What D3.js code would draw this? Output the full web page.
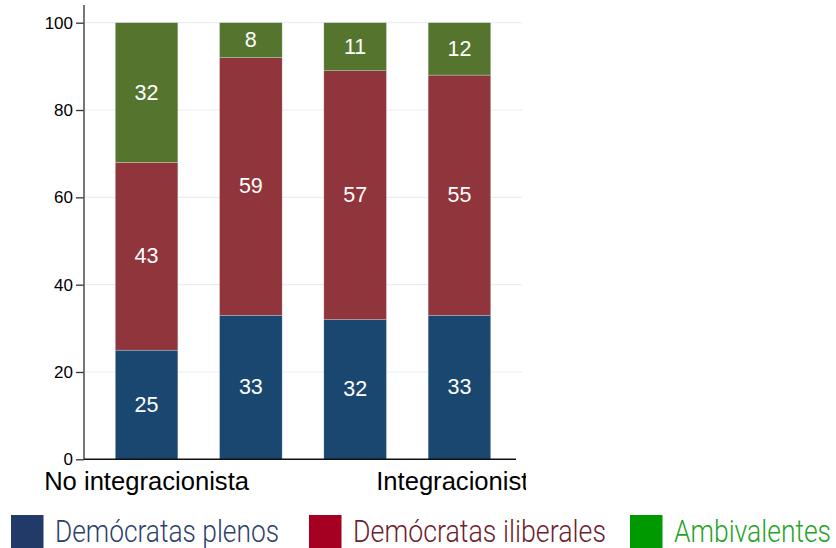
<!DOCTYPE html>
<html>
<head>
<meta charset="utf-8">
<script src="https://cdn.jsdelivr.net/npm/d3@7"></script>
<style>
  html, body { margin: 0; padding: 0; background: #fff; }
  svg { display: block; }
</style>
</head>
<body>
<svg id="chart" width="836" height="548"></svg>
<script>
// Stacked shares (%) by position on the integration scale
const categories = ["1", "2", "3", "4"];
const xTickLabels = ["No integracionista", "", "", "Integracionista"];
const plenos = [25, 33, 32, 33];
const iliberales = [43, 59, 57, 55];
const ambivalentes = [32, 8, 11, 12];
const seriesNames = ["Demócratas plenos", "Demócratas iliberales", "Ambivalentes"];
const yTicks = [0, 20, 40, 60, 80, 100];

const barColors = ["#1a476f", "#90353b", "#55752f"];
const legendSwatch = ["#213a68", "#a50021", "#009900"];
const legendText = ["#2d3f6c", "#6e1d2d", "#26a326"];

const svg = d3.select("#chart");

const x = d3.scaleBand()
  .domain(categories)
  .range([84, 522])
  .paddingInner(0.4)
  .paddingOuter(0.3);

const y = d3.scaleLinear().domain([0, 100]).range([459.3, 22.7]);

// Table for the stack layout
const rows = categories.map((c, i) => ({
  cat: c,
  plenos: plenos[i],
  iliberales: iliberales[i],
  ambivalentes: ambivalentes[i]
}));
const keys = ["plenos", "iliberales", "ambivalentes"];
const stacked = d3.stack().keys(keys)(rows);

// Horizontal grid lines
svg.append("g")
  .selectAll("line")
  .data(yTicks.filter(d => d > 0))
  .join("line")
  .attr("x1", x.range()[0] + 1)
  .attr("x2", x.range()[1])
  .attr("y1", d => y(d))
  .attr("y2", d => y(d))
  .attr("stroke", "#e6eff1")
  .attr("stroke-width", 1.2);

// Bars
const layers = svg.append("g")
  .selectAll("g")
  .data(stacked)
  .join("g")
  .attr("fill", (d, i) => barColors[i]);

layers.selectAll("rect")
  .data(d => d)
  .join("rect")
  .attr("x", d => x(d.data.cat))
  .attr("width", x.bandwidth())
  .attr("y", d => y(d[1]))
  .attr("height", d => y(d[0]) - y(d[1]))
  .attr("stroke", "#e3eaec")
  .attr("stroke-opacity", 0.6)
  .attr("stroke-width", 0.5);

// Value labels inside each segment
layers.selectAll("text")
  .data(d => d.map(v => ({ v, key: d.key })))
  .join("text")
  .attr("x", d => x(d.v.data.cat) + x.bandwidth() / 2)
  .attr("y", d => (y(d.v[0]) + y(d.v[1])) / 2)
  .attr("text-anchor", "middle")
  .attr("dominant-baseline", "central")
  .attr("fill", "#ffffff")
  .attr("font-family", "'Liberation Sans', Arial, sans-serif")
  .attr("font-size", 21.5)
  .text(d => d.v.data[d.key]);

// Y axis
const yAxis = d3.axisLeft(y)
  .tickValues(yTicks)
  .tickSize(8)
  .tickPadding(3)
  .tickFormat(d3.format("d"));

const gy = svg.append("g")
  .attr("transform", `translate(${x.range()[0]},0)`)
  .call(yAxis);
gy.select(".domain").remove();
gy.selectAll(".tick line").attr("stroke", "#333").attr("stroke-width", 1.3);
gy.selectAll(".tick text")
  .attr("fill", "#000")
  .attr("font-family", "'Liberation Sans', Arial, sans-serif")
  .attr("font-size", 17);

// Axis lines
svg.append("line")
  .attr("x1", x.range()[0]).attr("x2", x.range()[0])
  .attr("y1", 5).attr("y2", y(0))
  .attr("stroke", "#555").attr("stroke-width", 1.6);
svg.append("line")
  .attr("x1", x.range()[0]).attr("x2", x.range()[1] - 6)
  .attr("y1", y(0)).attr("y2", y(0))
  .attr("stroke", "#111").attr("stroke-width", 1.4);

// Category labels, clipped at the right edge of the graph area
svg.append("defs").append("clipPath").attr("id", "xclip")
  .append("rect").attr("x", 0).attr("y", 460).attr("width", 526).attr("height", 45);

svg.append("g")
  .attr("clip-path", "url(#xclip)")
  .selectAll("text")
  .data(categories.map((c, i) => ({ c, label: xTickLabels[i] })).filter(d => d.label))
  .join("text")
  .attr("x", d => x(d.c) + x.bandwidth() / 2)
  .attr("y", 490)
  .attr("text-anchor", "middle")
  .attr("fill", "#000")
  .attr("font-family", "'Liberation Sans', Arial, sans-serif")
  .attr("font-size", 25.6)
  .text(d => d.label);

// Legend
const legendX = [11, 309, 630];
const legendTextWidth = [224, 253, 157];
const legend = svg.append("g")
  .selectAll("g")
  .data(seriesNames)
  .join("g")
  .attr("transform", (d, i) => `translate(${legendX[i]},515)`);

legend.append("rect")
  .attr("width", 32.5)
  .attr("height", 34)
  .attr("fill", (d, i) => legendSwatch[i]);

legend.append("text")
  .attr("x", 44)
  .attr("y", 27)
  .attr("fill", (d, i) => legendText[i])
  .attr("font-family", "Roboto, 'Noto Sans', sans-serif")
  .attr("font-weight", 300)
  .attr("font-size", 30.5)
  .attr("textLength", (d, i) => legendTextWidth[i])
  .attr("lengthAdjust", "spacingAndGlyphs")
  .text(d => d);
</script>
</body>
</html>
